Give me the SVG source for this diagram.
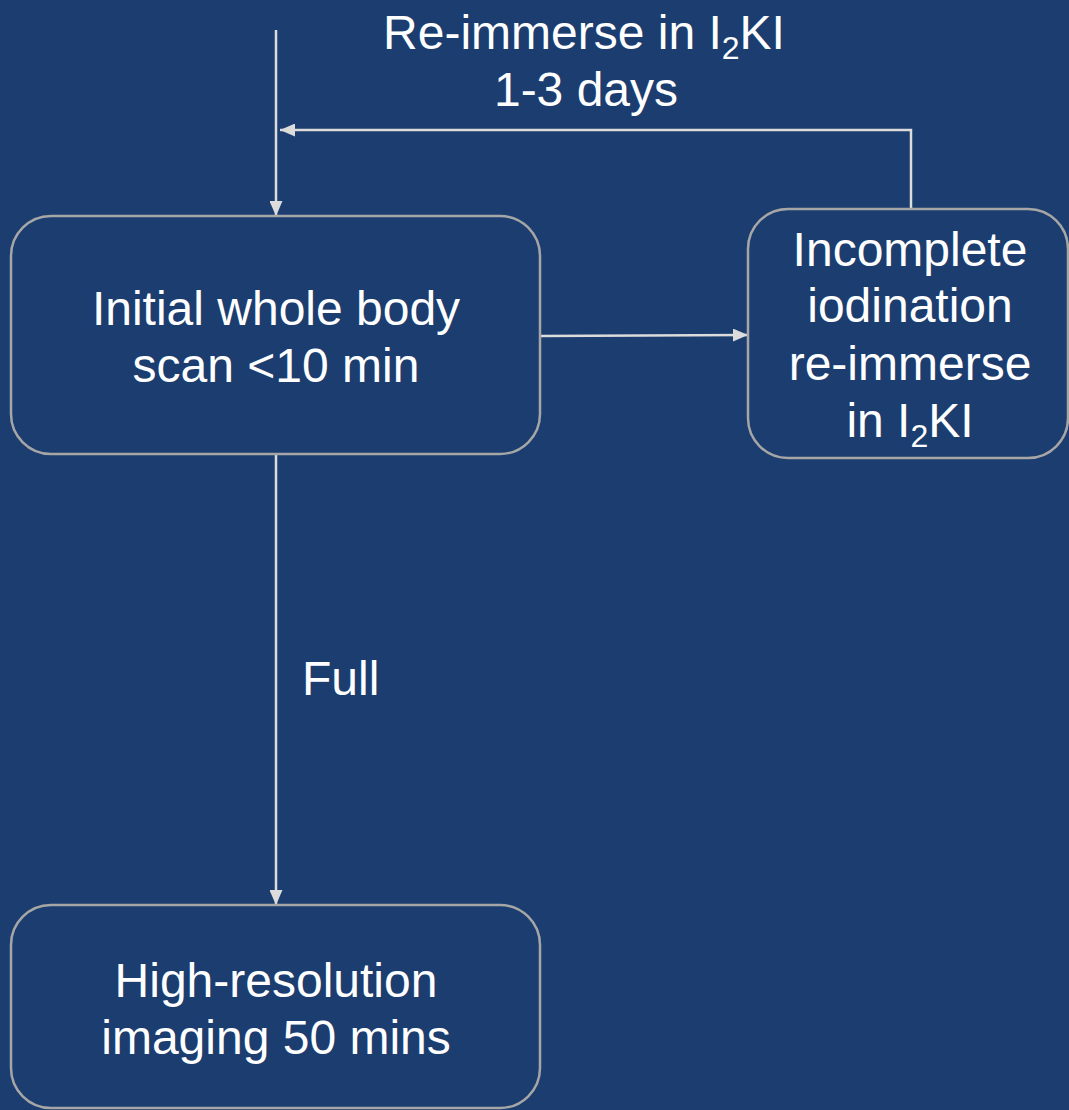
<svg xmlns="http://www.w3.org/2000/svg" width="1069" height="1110" viewBox="0 0 1069 1110">
<defs>
<marker id="ah" viewBox="0 0 15 13" refX="15" refY="6.5" markerWidth="15" markerHeight="13" markerUnits="userSpaceOnUse" orient="auto">
<path d="M0,0 L15,6.5 L0,13 Z" fill="#dcdcdc"/>
</marker>
<style>
.box{fill:#1b3d6f;stroke:#a6a6a6;stroke-width:2.5}
.t{font-family:"Liberation Sans",Arial,sans-serif;font-size:48px;fill:#ffffff;text-anchor:middle}
.sub{font-size:32px}
.c{fill:none;stroke:#dcdcdc;stroke-width:2.5}
</style>
</defs>
<rect x="0" y="0" width="1069" height="1110" fill="#1b3d6f"/>
<g id="connectors">
<path class="c" d="M276,30 L276,216" marker-end="url(#ah)"/>
<path class="c" d="M911,209 L911,130 L280,130" marker-end="url(#ah)"/>
<path class="c" d="M540,336 L748,335" marker-end="url(#ah)"/>
<path class="c" d="M276,454 L276,905" marker-end="url(#ah)"/>
</g>
<g id="label-reimmerse">
<text class="t" x="584" y="49">Re-immerse in I<tspan class="sub" dy="10">2</tspan><tspan dy="-10">KI</tspan></text>
<text class="t" x="586" y="106">1-3 days</text>
</g>
<g id="label-full">
<text class="t" x="302" y="695" style="text-anchor:start">Full</text>
</g>
<g id="node-initial">
<rect class="box" x="11" y="216" width="529" height="238" rx="40"/>
<text class="t" x="276" y="325">Initial whole body</text>
<text class="t" x="276" y="382">scan &lt;10 min</text>
</g>
<g id="node-incomplete">
<rect class="box" x="748" y="209" width="320" height="249" rx="40"/>
<text class="t" x="910" y="266">Incomplete</text>
<text class="t" x="910" y="322">iodination</text>
<text class="t" x="910" y="380">re-immerse</text>
<text class="t" x="910" y="437">in I<tspan class="sub" dy="10">2</tspan><tspan dy="-10">KI</tspan></text>
</g>
<g id="node-highres">
<rect class="box" x="11" y="905" width="529" height="203" rx="40"/>
<text class="t" x="276" y="997">High-resolution</text>
<text class="t" x="276" y="1054">imaging 50 mins</text>
</g>
</svg>
